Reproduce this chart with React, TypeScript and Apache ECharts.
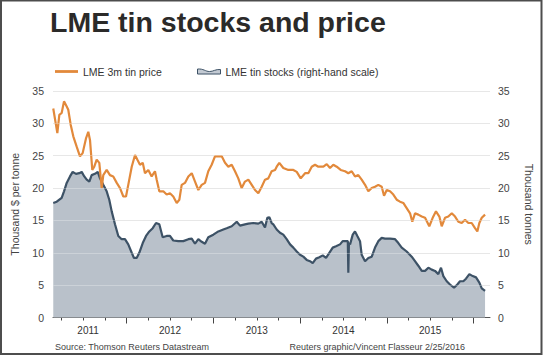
import React, { useEffect, useRef } from "react";
import * as echarts from "echarts";

// LME 3m tin price, thousand $ per tonne (x = decimal year)
const priceYears = [
  2011.153, 2011.2, 2011.223, 2011.25, 2011.277, 2011.308, 2011.326, 2011.354, 2011.384, 2011.423,
  2011.461, 2011.492, 2011.531, 2011.557, 2011.577, 2011.603, 2011.626, 2011.654, 2011.684, 2011.712,
  2011.73, 2011.769, 2011.807, 2011.845, 2011.885, 2011.923, 2011.961, 2011.992, 2012.018, 2012.058,
  2012.096, 2012.122, 2012.153, 2012.185, 2012.211, 2012.249, 2012.288, 2012.326, 2012.346, 2012.376,
  2012.422, 2012.461, 2012.499, 2012.537, 2012.577, 2012.607, 2012.634, 2012.672, 2012.711, 2012.75,
  2012.788, 2012.826, 2012.865, 2012.903, 2012.941, 2012.98, 2013.018, 2013.057, 2013.096, 2013.134,
  2013.172, 2013.211, 2013.249, 2013.287, 2013.326, 2013.364, 2013.403, 2013.442, 2013.48, 2013.518,
  2013.557, 2013.595, 2013.633, 2013.672, 2013.711, 2013.73, 2013.76, 2013.806, 2013.864, 2013.922,
  2013.961, 2014.007, 2014.057, 2014.095, 2014.134, 2014.172, 2014.21, 2014.268, 2014.307, 2014.345,
  2014.383, 2014.422, 2014.468, 2014.518, 2014.556, 2014.595, 2014.633, 2014.671, 2014.71, 2014.749,
  2014.787, 2014.826, 2014.864, 2014.902, 2014.941, 2014.968, 2014.999, 2015.037, 2015.075, 2015.114,
  2015.152, 2015.19, 2015.229, 2015.268, 2015.294, 2015.325, 2015.363, 2015.403, 2015.441, 2015.49,
  2015.529, 2015.567, 2015.606, 2015.633, 2015.671, 2015.709, 2015.749, 2015.787, 2015.825, 2015.864,
  2015.902, 2015.94, 2015.979, 2016.017, 2016.044, 2016.067, 2016.095, 2016.133,
];
const priceValues = [
  32.3, 28.5, 31.3, 31.6, 33.4, 32.6, 32.1, 29.8, 28.0, 26.4,
  24.9, 25.4, 27.7, 28.7, 27.4, 22.8, 23.3, 24.4, 23.9, 20.0,
  22.0, 22.8, 22.0, 21.8, 20.8, 20.0, 18.7, 18.7, 20.5, 23.3,
  25.1, 24.4, 23.6, 23.9, 22.3, 22.8, 21.8, 22.6, 21.3, 19.5,
  19.5, 19.0, 19.2, 18.7, 17.7, 18.2, 20.5, 20.8, 21.8, 22.3,
  21.0, 19.7, 20.5, 20.8, 22.6, 23.6, 24.9, 24.9, 24.9, 23.9,
  23.3, 23.6, 22.6, 21.5, 20.0, 21.0, 21.3, 20.5, 19.7, 19.2,
  20.2, 21.3, 21.5, 22.6, 22.8, 23.3, 23.9, 23.1, 22.8, 22.8,
  22.5, 21.5, 22.3, 22.3, 23.3, 23.6, 23.3, 23.3, 23.7, 23.1,
  23.6, 23.3, 22.8, 22.6, 22.3, 22.6, 21.8, 22.0, 21.3, 20.5,
  19.5, 20.0, 20.2, 20.5, 20.2, 18.8, 19.7, 19.5, 19.0, 18.2,
  17.9, 17.7, 16.9, 16.1, 14.8, 16.1, 15.9, 15.6, 15.4, 14.1,
  15.4, 16.4, 15.6, 14.1, 15.4, 15.6, 16.1, 15.6, 14.8, 14.6,
  15.1, 14.6, 14.6, 13.8, 13.3, 14.6, 15.4, 15.9,
];

// LME tin stocks, thousand tonnes (right-hand scale)
const stockYears = [
  2011.153, 2011.193, 2011.25, 2011.277, 2011.308, 2011.346, 2011.377, 2011.415, 2011.453, 2011.481,
  2011.511, 2011.539, 2011.569, 2011.596, 2011.634, 2011.666, 2011.692, 2011.73, 2011.769, 2011.799,
  2011.827, 2011.865, 2011.903, 2011.942, 2011.98, 2012.018, 2012.058, 2012.084, 2012.115, 2012.145,
  2012.185, 2012.223, 2012.261, 2012.3, 2012.338, 2012.376, 2012.415, 2012.461, 2012.499, 2012.537,
  2012.595, 2012.653, 2012.711, 2012.75, 2012.788, 2012.826, 2012.865, 2012.903, 2012.941, 2012.999,
  2013.057, 2013.114, 2013.153, 2013.211, 2013.269, 2013.307, 2013.364, 2013.403, 2013.46, 2013.518,
  2013.557, 2013.595, 2013.622, 2013.645, 2013.672, 2013.691, 2013.73, 2013.768, 2013.806, 2013.845,
  2013.884, 2013.922, 2013.961, 2013.999, 2014.037, 2014.076, 2014.114, 2014.145, 2014.183, 2014.222,
  2014.261, 2014.299, 2014.337, 2014.376, 2014.414, 2014.46, 2014.491, 2014.529, 2014.55, 2014.556,
  2014.563, 2014.576, 2014.607, 2014.633, 2014.66, 2014.691, 2014.71, 2014.749, 2014.787, 2014.826,
  2014.864, 2014.902, 2014.941, 2014.979, 2015.037, 2015.095, 2015.133, 2015.172, 2015.229, 2015.287,
  2015.325, 2015.363, 2015.403, 2015.441, 2015.479, 2015.518, 2015.556, 2015.594, 2015.625, 2015.652,
  2015.691, 2015.729, 2015.775, 2015.813, 2015.844, 2015.882, 2015.913, 2015.952, 2015.991, 2016.029,
  2016.067, 2016.095, 2016.133,
];
const stockValues = [
  17.7, 17.9, 18.5, 19.5, 20.8, 21.8, 22.5, 22.2, 22.3, 22.5,
  21.8, 21.3, 21.0, 22.0, 22.2, 22.5, 21.5, 20.5, 19.5, 18.2,
  16.4, 14.4, 12.6, 12.1, 12.1, 11.3, 10.0, 9.2, 9.2, 10.0,
  11.5, 12.6, 13.3, 13.8, 14.6, 14.4, 12.4, 12.6, 12.6, 11.9,
  11.8, 11.8, 12.1, 12.2, 11.4, 12.1, 11.7, 11.4, 12.4, 12.8,
  13.3, 13.6, 13.8, 14.1, 14.8, 14.2, 14.4, 14.5, 14.6, 14.5,
  14.8, 13.9, 15.4, 15.5, 14.6, 14.4, 13.6, 13.1, 12.8, 12.1,
  11.3, 10.8, 10.2, 9.7, 9.4, 8.9, 8.7, 8.4, 9.1, 9.3,
  9.6, 9.2, 10.0, 10.8, 11.0, 11.3, 11.8, 11.8, 11.8, 6.9,
  11.5, 11.3, 12.8, 13.3, 12.6, 11.8, 9.7, 8.7, 9.2, 9.4,
  10.8, 11.8, 12.3, 12.2, 12.2, 12.1, 11.5, 10.8, 10.2, 9.4,
  8.7, 8.0, 7.2, 7.2, 7.7, 7.4, 7.2, 6.7, 7.7, 6.4,
  5.6, 5.1, 4.6, 5.1, 5.6, 5.6, 6.0, 6.7, 6.4, 6.2,
  5.4, 4.5, 4.1,
];

const yTicks = [0, 5, 10, 15, 20, 25, 30, 35];
const quarterTicks = [
  2011.25, 2011.5, 2011.75, 2012, 2012.25, 2012.5, 2012.75, 2013, 2013.25, 2013.5, 2013.75,
  2014, 2014.25, 2014.5, 2014.75, 2015, 2015.25, 2015.5, 2015.75, 2016,
];
const yearTicks = [2012, 2013, 2014, 2015, 2016];
const yearLabelPositions = [2011.555, 2012.5, 2013.5, 2014.5, 2015.5];

const X_MIN = 2011.15;
const X_MAX = 2016.19;
const FONT = "'Liberation Sans', Arial, Helvetica, sans-serif";

export default function App() {
  const ref = useRef<HTMLDivElement>(null);

  useEffect(() => {
    if (!ref.current) return;
    const chart = echarts.init(ref.current, undefined, { renderer: "svg" });
    const pricePairs = priceYears.map((y, i) => [y, priceValues[i]]);
    const stockPairs = stockYears.map((y, i) => [y, stockValues[i]]);

    chart.setOption({
      animation: false,
      backgroundColor: "#ffffff",
      textStyle: { fontFamily: FONT },
      title: {
        text: "LME tin stocks and price",
        left: 50,
        top: 7,
        padding: 0,
        textStyle: { fontSize: 28.5, fontWeight: "bold", color: "#2b2a29", fontFamily: FONT },
      },
      legend: [
        {
          left: 55,
          top: 66,
          padding: 0,
          itemWidth: 23,
          itemHeight: 8,
          selectedMode: false,
          textStyle: { fontSize: 10.5, color: "#333333", fontFamily: FONT },
          data: [{ name: "LME 3m tin price", icon: "path://M0,3H23V5.8H0Z" }],
        },
        {
          left: 197,
          top: 66,
          padding: 0,
          itemWidth: 23,
          itemHeight: 8,
          selectedMode: false,
          textStyle: { fontSize: 10.5, color: "#333333", fontFamily: FONT },
          data: [
            {
              name: "LME tin stocks (right-hand scale)",
              icon: "path://M0,0.5C6,0 8,3 12,3C16,3 18,0.5 23,1L23,5.5L0,5.5Z",
              itemStyle: { color: "#c3cad3", borderColor: "#3d5266", borderWidth: 1 },
            },
          ],
        },
      ],
      grid: { left: 53, right: 53, top: 91, bottom: 37.5, containLabel: false },
      xAxis: [
        {
          type: "value",
          min: X_MIN,
          max: X_MAX,
          axisLine: { show: true, lineStyle: { color: "#555555", width: 1 } },
          axisTick: { show: true, length: 3, customValues: quarterTicks, lineStyle: { color: "#444444" } },
          axisLabel: {
            show: true,
            customValues: yearLabelPositions,
            formatter: (v: number) => String(Math.floor(v)),
            fontSize: 10,
            color: "#333333",
            margin: 8,
            fontFamily: FONT,
          },
          splitLine: { show: false },
        },
        {
          type: "value",
          min: X_MIN,
          max: X_MAX,
          position: "bottom",
          axisLine: { show: false },
          axisTick: { show: true, length: 6, customValues: yearTicks, lineStyle: { color: "#444444" } },
          axisLabel: { show: false },
          splitLine: { show: false },
        },
      ],
      yAxis: [
        {
          type: "value",
          min: 0,
          max: 35,
          interval: 5,
          position: "left",
          name: "Thousand $ per tonne",
          nameLocation: "middle",
          nameGap: 33,
          nameTextStyle: { fontSize: 10.5, color: "#444444", fontFamily: FONT },
          axisLine: { show: false },
          axisTick: { show: false },
          axisLabel: { fontSize: 10.5, color: "#444444", margin: 9, fontFamily: FONT },
          splitLine: { show: true, lineStyle: { color: "#dedede", width: 1 } },
        },
        {
          type: "value",
          min: 0,
          max: 35,
          interval: 5,
          position: "right",
          name: "Thousand tonnes",
          nameLocation: "middle",
          nameRotate: -90,
          nameGap: 33,
          nameTextStyle: { fontSize: 10.5, color: "#444444", fontFamily: FONT },
          axisLine: { show: false },
          axisTick: { show: false },
          axisLabel: { fontSize: 10.5, color: "#444444", margin: 8, fontFamily: FONT },
          splitLine: { show: false },
        },
      ],
      series: [
        {
          name: "LME tin stocks (right-hand scale)",
          type: "line",
          xAxisIndex: 0,
          yAxisIndex: 1,
          data: stockPairs,
          showSymbol: false,
          symbol: "none",
          lineStyle: { color: "#3d5266", width: 2.2 },
          itemStyle: { color: "#3d5266" },
          areaStyle: { color: "#b9c1ca", opacity: 1 },
          z: 2,
          markLine: {
            silent: true,
            symbol: "none",
            label: { show: false },
            lineStyle: { color: "rgba(255,255,255,0.28)", width: 1, type: "solid" },
            data: yTicks.filter((t) => t > 0).map((t) => ({ yAxis: t })),
          },
        },
        {
          name: "LME 3m tin price",
          type: "line",
          xAxisIndex: 0,
          yAxisIndex: 0,
          data: pricePairs,
          showSymbol: false,
          symbol: "none",
          lineStyle: { color: "#e2893b", width: 2.2 },
          itemStyle: { color: "#e2893b" },
          z: 3,
        },
      ],
      graphic: [
        {
          type: "text",
          left: 55,
          top: 342,
          style: {
            text: "Source: Thomson Reuters Datastream",
            fontSize: 9,
            fontFamily: FONT,
            fill: "#444444",
          },
        },
        {
          type: "text",
          right: 78,
          top: 342,
          style: {
            text: "Reuters graphic/Vincent Flasseur 2/25/2016",
            fontSize: 9,
            fontFamily: FONT,
            fill: "#444444",
          },
        },
        {
          type: "rect",
          shape: { x: 1, y: 0.5, width: 540.5, height: 353.5 },
          style: { fill: "none", stroke: "#4d4d4d", lineWidth: 2 },
          silent: true,
          z: 100,
        },
      ],
    });

    return () => chart.dispose();
  }, []);

  return (
    <div
      ref={ref}
      style={{ position: "fixed", left: 0, top: 0, width: 543, height: 355 }}
    />
  );
}
